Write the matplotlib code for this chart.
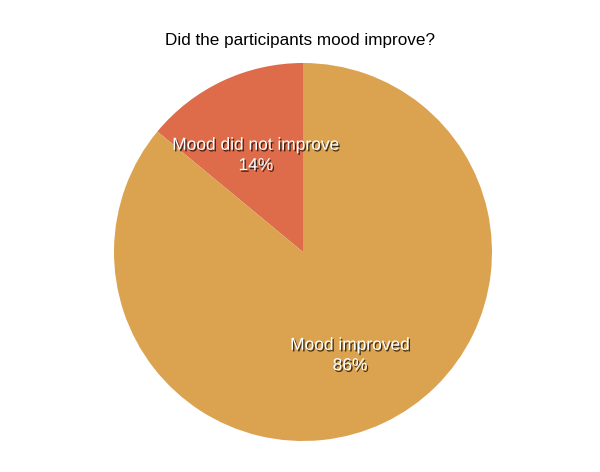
import numpy as np
import matplotlib
matplotlib.use("Agg")
import matplotlib.pyplot as plt
import matplotlib.patheffects as pe

categories = ["Mood did not improve", "Mood improved"]
values = [14, 86]
colors = ["#DE6C4A", "#DBA350"]
title = "Did the participants mood improve?"

plt.rcParams['font.family'] = ['Liberation Sans', 'DejaVu Sans']

fig = plt.figure(figsize=(6, 4.72), dpi=100)
W, H = 600, 472
cx, cy, r = 303, 252, 189
ax = fig.add_axes([(cx - r) / W, (H - cy - r) / H, 2 * r / W, 2 * r / H])
wedges, _ = ax.pie(values, colors=colors, startangle=90, counterclock=True,
                   wedgeprops=dict(linewidth=0))
ax.set_xlim(-1, 1)
ax.set_ylim(-1, 1)
ax.set_aspect('equal')
ax.axis('off')

total = sum(values)
shadow = [pe.withSimplePatchShadow(offset=(1, -1.2), shadow_rgbFace='black', alpha=0.7)]
for w, cat, v in zip(wedges, categories, values):
    ang = np.deg2rad((w.theta1 + w.theta2) / 2)
    d = 0.585
    ax.annotate(f"{cat}\n{v / total * 100:.0f}%", (d * np.cos(ang), d * np.sin(ang)),
                xytext=(0, -2.5), textcoords='offset points',
                ha='center', va='center', color='white', fontsize=12.5,
                linespacing=1.45, path_effects=shadow)

fig.text(0.5, (H - 40) / H, title, ha='center', va='center', fontsize=12.3, color='black')
fig.savefig("out.png", dpi=100)
